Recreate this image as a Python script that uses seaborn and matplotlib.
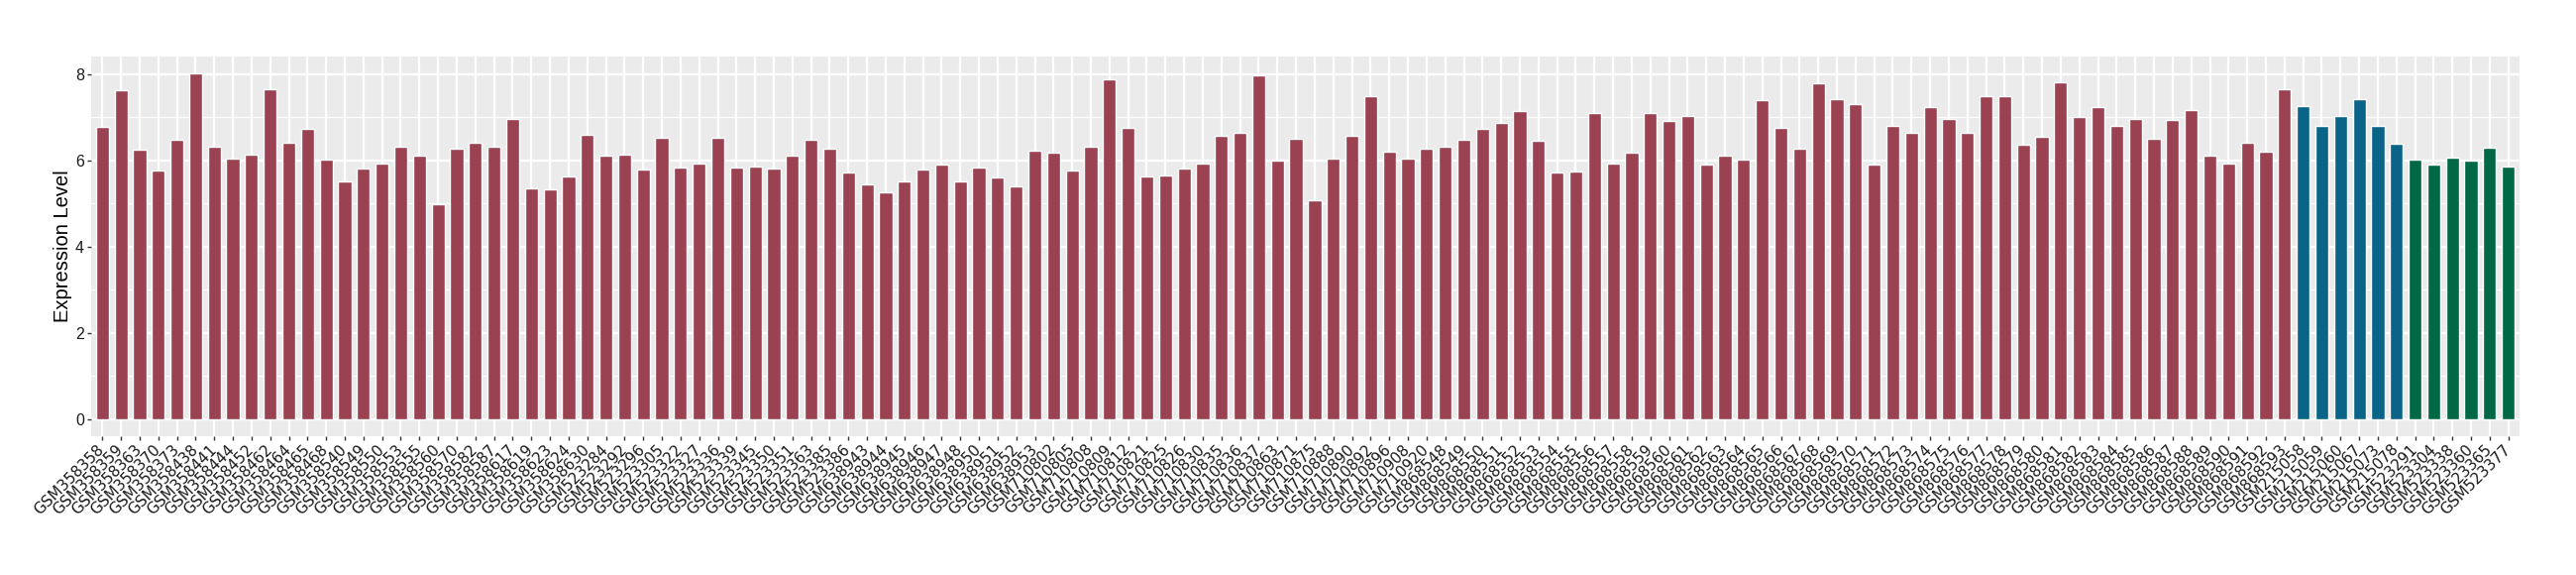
import matplotlib
matplotlib.use("Agg")
import matplotlib.pyplot as plt
import matplotlib.transforms as mtransforms
from matplotlib.ticker import MultipleLocator
import seaborn as sns
import pandas as pd

red_samples = [
    "GSM358358", "GSM358359", "GSM358363", "GSM358370", "GSM358373", "GSM358438",
    "GSM358441", "GSM358444", "GSM358452", "GSM358462", "GSM358464", "GSM358465",
    "GSM358468", "GSM358540", "GSM358549", "GSM358550", "GSM358553", "GSM358555",
    "GSM358560", "GSM358570", "GSM358582", "GSM358587", "GSM358617", "GSM358619",
    "GSM358623", "GSM358624", "GSM358630", "GSM523284", "GSM523292", "GSM523296",
    "GSM523305", "GSM523322", "GSM523327", "GSM523336", "GSM523339", "GSM523345",
    "GSM523350", "GSM523351", "GSM523363", "GSM523385", "GSM523386", "GSM638943",
    "GSM638944", "GSM638945", "GSM638946", "GSM638947", "GSM638948", "GSM638950",
    "GSM638951", "GSM638952", "GSM638953", "GSM710802", "GSM710805", "GSM710808",
    "GSM710809", "GSM710812", "GSM710821", "GSM710825", "GSM710826", "GSM710830",
    "GSM710835", "GSM710836", "GSM710837", "GSM710863", "GSM710871", "GSM710875",
    "GSM710888", "GSM710890", "GSM710892", "GSM710896", "GSM710908", "GSM710920",
    "GSM868548", "GSM868549", "GSM868550", "GSM868551", "GSM868552", "GSM868553",
    "GSM868554", "GSM868555", "GSM868556", "GSM868557", "GSM868558", "GSM868559",
    "GSM868560", "GSM868561", "GSM868562", "GSM868563", "GSM868564", "GSM868565",
    "GSM868566", "GSM868567", "GSM868568", "GSM868569", "GSM868570", "GSM868571",
    "GSM868572", "GSM868573", "GSM868574", "GSM868575", "GSM868576", "GSM868577",
    "GSM868578", "GSM868579", "GSM868580", "GSM868581", "GSM868582", "GSM868583",
    "GSM868584", "GSM868585", "GSM868586", "GSM868587", "GSM868588", "GSM868589",
    "GSM868590", "GSM868591", "GSM868592", "GSM868593",
]
red_values = [
    6.77, 7.62, 6.24, 5.76, 6.47, 8.01, 6.31, 6.04, 6.13, 7.66, 6.40, 6.72,
    6.01, 5.51, 5.81, 5.92, 6.31, 6.10, 4.98, 6.26, 6.40, 6.31, 6.95, 5.35,
    5.32, 5.62, 6.59, 6.10, 6.13, 5.78, 6.52, 5.83, 5.92, 6.52, 5.83, 5.85,
    5.81, 6.10, 6.47, 6.26, 5.71, 5.44, 5.26, 5.51, 5.78, 5.90, 5.51, 5.83,
    5.60, 5.39, 6.22, 6.17, 5.76, 6.31, 7.87, 6.75, 5.62, 5.65, 5.81, 5.92,
    6.56, 6.65, 7.98, 5.99, 6.49, 5.07, 6.04, 6.56, 7.50, 6.20, 6.04, 6.26,
    6.31, 6.47, 6.72, 6.86, 7.14, 6.45, 5.71, 5.74, 7.11, 5.92, 6.17, 7.11,
    6.91, 7.04, 5.90, 6.10, 6.01, 7.39, 6.75, 6.26, 7.78, 7.41, 7.30, 5.90,
    6.81, 6.63, 7.23, 6.95, 6.65, 7.50, 7.48, 6.36, 6.54, 7.82, 7.00, 7.23,
    6.81, 6.95, 6.49, 6.93, 7.16, 6.10, 5.92, 6.42, 6.20, 7.64,
]
blue_samples = ["GSM215058", "GSM215059", "GSM215060", "GSM215067", "GSM215073", "GSM215078"]
blue_values = [7.25, 6.79, 7.04, 7.43, 6.81, 6.38]
green_samples = ["GSM523291", "GSM523304", "GSM523338", "GSM523360", "GSM523365", "GSM523377"]
green_values = [6.01, 5.90, 6.06, 5.99, 6.29, 5.85]
group_names = ["A", "B", "C"]
group_colors = ["#9A4251", "#0A6487", "#016846"]

samples = red_samples + blue_samples + green_samples
values = red_values + blue_values + green_values
groups = (["A"] * len(red_samples) + ["B"] * len(blue_samples) + ["C"] * len(green_samples))
df = pd.DataFrame({"sample": samples, "value": values, "group": groups})

sns.set_theme(style="darkgrid")
plt.rcParams["font.family"] = ["Liberation Sans", "DejaVu Sans"]

W, H = 2600, 580
fig = plt.figure(figsize=(W / 100, H / 100), dpi=100)
ax = fig.add_axes([92 / W, 1 - 440 / H, (2543 - 92) / W, (440 - 57) / H])
ax.set_facecolor("#EBEBEB")

sns.barplot(data=df, x="sample", y="value", hue="group", order=samples,
            hue_order=group_names, palette=dict(zip(group_names, group_colors)),
            dodge=False, width=0.7, legend=False, saturation=1, ax=ax, zorder=3)

ax.set_xlim(-0.6, len(samples) - 1 + 0.6)
ax.set_ylim(-0.4, 8.41)
ax.yaxis.set_major_locator(MultipleLocator(2))
ax.yaxis.set_minor_locator(MultipleLocator(1))
ax.grid(which="major", color="white", linewidth=1.6, zorder=0)
ax.grid(which="minor", axis="y", color="white", linewidth=0.8, zorder=0)
ax.set_axisbelow(True)
for s in ax.spines.values():
    s.set_visible(False)

ax.tick_params(axis="both", which="major", length=3, width=1, color="#333333",
               labelcolor="#1A1A1A", direction="out", bottom=True, left=True)
ax.tick_params(axis="y", which="minor", length=0)
ax.tick_params(axis="y", labelsize=11.5, pad=2)
ax.tick_params(axis="x", labelsize=11, pad=1)
for lab in ax.get_xticklabels():
    lab.set_rotation(45)
    lab.set_ha("right")
    lab.set_va("top")
    lab.set_fontfamily(["DejaVu Sans"])
    lab.set_transform(lab.get_transform() + mtransforms.ScaledTranslation(5 / 100, 0, fig.dpi_scale_trans))

ax.set_xlabel("")
ax.set_ylabel("Expression Level", fontsize=14.5, color="black", labelpad=2)

fig.savefig("out.png", dpi=100)
